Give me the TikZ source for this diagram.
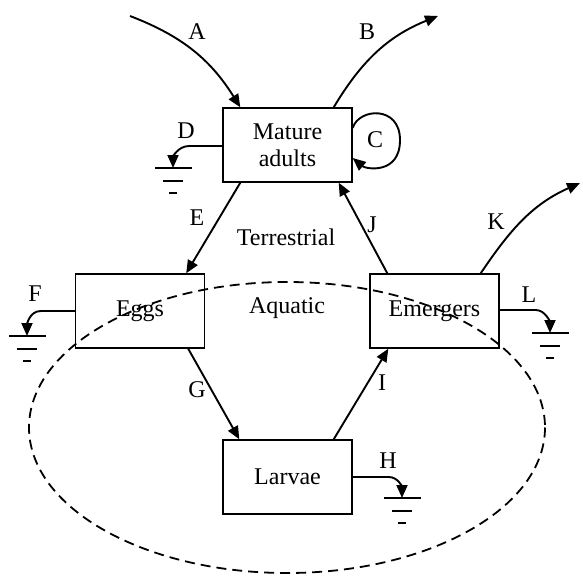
\documentclass[tikz,border=0pt]{standalone}
\usepackage{fontspec}
\setmainfont{Liberation Serif}
\usetikzlibrary{arrows.meta,calc}
\tikzset{
  box/.style={draw,line width=1.4pt,minimum width=129pt,minimum height=74pt,inner sep=0pt,font=\fontsize{24}{27}\selectfont,align=center},
  lbl/.style={font=\fontsize{24}{27}\selectfont,inner sep=0pt},
  flow/.style={line width=1.9pt,-{Triangle[length=13pt,width=11pt]}},
  gnd/.style={line width=1.5pt},
}
\newcommand{\groundsym}[1]{%
  \draw[gnd] ($(#1)+(-18,0)$) -- ($(#1)+(19,0)$);
  \draw[gnd] ($(#1)+(-10,13)$) -- ($(#1)+(10,13)$);
  \draw[gnd] ($(#1)+(-4,25)$) -- ($(#1)+(4,25)$);}
\begin{document}
\begin{tikzpicture}[x=1pt,y=-1pt]
\useasboundingbox (0,0) rectangle (583,575);
% ellipse
\draw[line width=1.8pt,dash pattern=on 10pt off 6pt] (287,427.5) ellipse [x radius=258, y radius=145.5];
% boxes
\node[box,fill=white] (ma) at (287.5,145) {Mature\\adults};
\node[box] (eggs) at (140,311) {Eggs};
\node[box] (em) at (434.5,311) {Emergers};
\node[box,fill=white] (lar) at (287.5,477) {Larvae};
% region labels
\node[lbl] (terr) at (286,237) {Terrestrial};
\node[lbl] (aqua) at (287,308) {Aquatic};
% free-end coordinates
\coordinate (a0) at (130,16);
\coordinate (b1) at (438,16);
\coordinate (k1) at (580,183);
\coordinate (cR) at (400,140);
\coordinate (gD) at (173,168);
\coordinate (gF) at (27,336);
\coordinate (gL) at (550,333);
\coordinate (gH) at (402,498);
% A
\draw[flow] (a0) to[out=-21,in=122] ([xshift=18pt]ma.north west);
% B
\draw[flow] ([xshift=-19pt]ma.north east) to[out=59,in=202] (b1);
% C
\draw[flow] ([yshift=17pt]ma.east) .. controls +(6,-20) and +(0,-35) .. (cR)
  .. controls +(0,35) and +(13,11) .. ([yshift=-13pt]ma.east);
% D
\draw[flow] ([yshift=-1pt]ma.west) -- ++(-33,0) .. controls +(-12,0) and +(0,-10) .. (gD);
\groundsym{gD}
% E
\draw[flow] ([xshift=18pt]ma.south west) -- ([xshift=-19pt]eggs.north east);
% J
\draw[flow] ([xshift=18pt]em.north west) -- ([xshift=-14pt]ma.south east);
% K
\draw[flow] ([xshift=-19pt]em.north east) to[out=56,in=204] (k1);
% F
\draw[flow] (eggs.west) -- ++(-34,0) .. controls +(-12,0) and +(0,-10) .. (gF);
\groundsym{gF}
% L
\draw[flow] ([yshift=1pt]em.east) -- ++(36,0) .. controls +(10,0) and +(0,-10) .. (gL);
\groundsym{gL}
% G
\draw[flow] ([xshift=-17pt]eggs.south east) -- ([xshift=17pt]lar.north west);
% I
\draw[flow] ([xshift=-19pt]lar.north east) -- ([xshift=19pt]em.south west);
% H
\draw[flow] (lar.east) -- ++(36,0) .. controls +(10,0) and +(0,-10) .. (gH);
\groundsym{gH}
% labels
\node[lbl] (lA) at (197,32) {A};
\node[lbl] (lB) at (367,32) {B};
\node[lbl] (lC) at (375,140) {C};
\node[lbl] (lD) at (186,131) {D};
\node[lbl] (lE) at (197,218) {E};
\node[lbl] (lF) at (35,294) {F};
\node[lbl] (lG) at (197,390) {G};
\node[lbl] (lH) at (388,461) {H};
\node[lbl] (lI) at (382,383) {I};
\node[lbl] (lJ) at (372,225) {J};
\node[lbl] (lK) at (496,222) {K};
\node[lbl] (lL) at (529,295) {L};
\end{tikzpicture}
\end{document}
